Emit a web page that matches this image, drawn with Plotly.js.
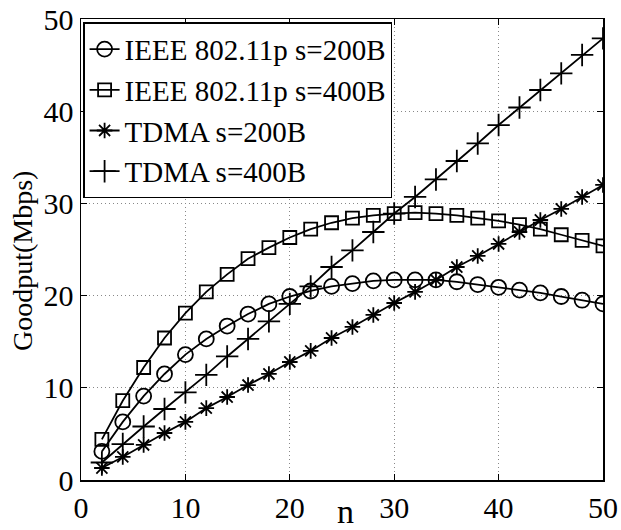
<!DOCTYPE html>
<html>
<head>
<script src="https://cdn.plot.ly/plotly-3.0.1.min.js"></script>
<style>body{margin:0;padding:0;background:#fff;}#chart{width:621px;height:530px;}</style>
</head>
<body>
<div id="chart"></div>
<script>
var nodes = [2,4,6,8,10,12,14,16,18,20,22,24,26,28,30,32,34,36,38,40,42,44,46,48,50];
var ieee200 = [3.1,6.3,9.1,11.5,13.6,15.3,16.7,18.0,19.1,19.9,20.5,21.0,21.3,21.6,21.7,21.7,21.7,21.5,21.2,20.9,20.6,20.3,19.9,19.5,19.1];
var ieee400 = [4.4,8.6,12.2,15.4,18.1,20.4,22.3,24.0,25.2,26.3,27.2,27.9,28.4,28.7,28.9,29.0,28.9,28.7,28.4,28.1,27.7,27.2,26.6,26.0,25.4];
var tdma200 = [1.3,2.5,3.8,5.1,6.3,7.8,9.0,10.3,11.5,12.8,14.0,15.4,16.6,17.9,19.2,20.4,21.7,23.1,24.3,25.6,26.9,28.2,29.4,30.7,32.0];
var tdma400 = [1.9,3.9,5.8,7.7,9.5,11.4,13.4,15.3,17.2,19.1,21.0,23.1,24.9,26.9,28.9,30.7,32.6,34.6,36.5,38.5,40.4,42.3,44.1,46.1,47.9];
var names = ["IEEE 802.11p s=200B","IEEE 802.11p s=400B","TDMA s=200B","TDMA s=400B"];
var tickVals = [0,10,20,30,40,50];
var yTitle = "Goodput(Mbps)";
var xTitle = "n";
var SERIF = '"Liberation Serif", "Times New Roman", Times, "DejaVu Serif", serif';

function tr(y, name, sym, size){
  return {x: nodes, y: y, name: name, type: 'scatter', mode: 'lines+markers',
    line: {color: '#000', width: 1.8},
    marker: {symbol: sym, size: size, color: '#000', line: {color: '#000', width: 1.8}}};
}
var data = [
  tr(ieee200, names[0], 'circle-open', 15),
  tr(ieee400, names[1], 'square-open', 13),
  tr(tdma200, names[2], 'asterisk-open', 13),
  tr(tdma400, names[3], 'cross-thin-open', 16)
];
var axisCommon = {
  range: [0,50], tickvals: tickVals, ticks: 'inside', ticklen: 6, tickcolor: '#000',
  showline: true, linecolor: '#000', linewidth: 1.5, mirror: 'ticks',
  showgrid: true, gridcolor: '#888', griddash: '1px,3px', gridwidth: 1, zeroline: false,
  tickfont: {family: SERIF, size: 30, color: '#000'}
};
var layout = {
  width: 621, height: 530,
  margin: {l: 81, r: 18, t: 19, b: 50},
  paper_bgcolor: '#fff', plot_bgcolor: '#fff',
  font: {family: SERIF, color: '#000'},
  xaxis: Object.assign({}, axisCommon),
  yaxis: Object.assign({}, axisCommon),
  annotations: [
    {text: yTitle, xref: 'paper', yref: 'paper', x: -0.113, y: 0.475, xanchor: 'center', yanchor: 'middle',
      textangle: -90, showarrow: false, font: {family: SERIF, size: 28, color: '#000'}},
    {text: xTitle, xref: 'paper', yref: 'paper', x: 0.506, y: -0.068, xanchor: 'center', yanchor: 'middle',
      showarrow: false, font: {family: SERIF, size: 34, color: '#000'}}
  ],
  legend: {x: 0.004, y: 0.993, xanchor: 'left', yanchor: 'top', bgcolor: '#fff', bordercolor: '#000', borderwidth: 1.5,
    font: {family: SERIF, size: 29, color: '#000'}, tracegroupgap: 0, itemwidth: 30},
  showlegend: true
};
Plotly.newPlot('chart', data, layout, {displayModeBar: false, staticPlot: true});
</script>
</body>
</html>
